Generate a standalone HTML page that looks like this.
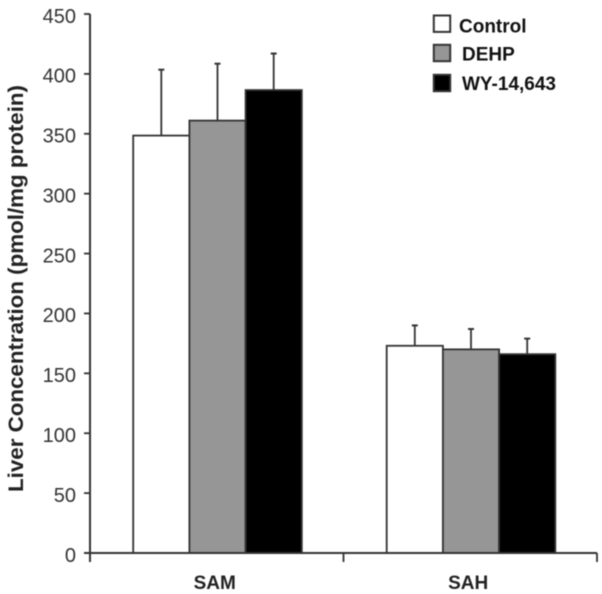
<!DOCTYPE html>
<html>
<head>
<meta charset="utf-8">
<style>
html,body{margin:0;padding:0;background:#fff;width:602px;height:594px;overflow:hidden}
svg{display:block;filter:blur(0.4px)}
text{font-family:"Liberation Sans",sans-serif}
</style>
</head>
<body>
<svg id="chart" width="602" height="594" viewBox="0 0 602 594" xmlns="http://www.w3.org/2000/svg">
<g id="marks"></g>
<g id="axes"></g>
<text transform="translate(23,288.5) rotate(-90)" text-anchor="middle" font-size="21.7" font-weight="bold" fill="#222" textLength="407" lengthAdjust="spacingAndGlyphs">Liver Concentration (pmol/mg protein)</text>
<g id="legend"></g>
</svg>
<script>
const categories = ['SAM', 'SAH'];
const seriesNames = ['Control', 'DEHP', 'WY-14,643'];
const controlValues = [348.5, 173];
const dehpValues = [361, 170];
const wyValues = [386.5, 166];
const controlErrors = [55, 17];
const dehpErrors = [47.5, 17];
const wyErrors = [30.5, 13];
const yTicks = [0, 50, 100, 150, 200, 250, 300, 350, 400, 450];

const seriesValues = [controlValues, dehpValues, wyValues];
const seriesErrors = [controlErrors, dehpErrors, wyErrors];
const seriesFills = ['#ffffff', '#969696', '#000000'];

const NS = 'http://www.w3.org/2000/svg';
const axisColor = '#333';
const plotLeft = 90, plotRight = 597, baseY = 553, topY = 14;
const yMax = 450;
const barWidth = 56.2;

function yScale(v) { return baseY - (v / yMax) * (baseY - topY); }
function bandCenter(i) { return plotLeft + (plotRight - plotLeft) * (i + 0.5) / categories.length + 0.75; }
function barX(c, s) { return bandCenter(c) - barWidth * seriesNames.length / 2 + s * barWidth; }

function make(tag, attrs, parent) {
  const el = document.createElementNS(NS, tag);
  for (const k in attrs) el.setAttribute(k, attrs[k]);
  parent.appendChild(el);
  return el;
}

const marks = document.getElementById('marks');
const axes = document.getElementById('axes');
const legend = document.getElementById('legend');

categories.forEach(function (cat, c) {
  seriesNames.forEach(function (name, s) {
    const v = seriesValues[s][c];
    const e = seriesErrors[s][c];
    const x = barX(c, s);
    const cx = x + barWidth / 2;
    const stem = make('line', {x1: cx, x2: cx, y1: yScale(v), y2: yScale(v + e), stroke: axisColor, 'stroke-width': 1.8}, marks);
    
    
    const cap = make('line', {x1: cx - 3, x2: cx + 3, y1: yScale(v + e), y2: yScale(v + e), stroke: axisColor, 'stroke-width': 2}, marks);
    
    
    const bar = make('rect', {x: x, y: yScale(v), width: barWidth, height: baseY - yScale(v), fill: seriesFills[s], stroke: axisColor, 'stroke-width': 1.8}, marks);
    
    
  });
  const label = make('text', {x: bandCenter(c) - 2.8, y: 589, 'text-anchor': 'middle', 'font-size': 19, 'font-weight': 'bold', fill: '#222'}, axes);
  label.textContent = cat;
  
  
});

const yAxisLine = make('line', {x1: plotLeft, x2: plotLeft, y1: topY, y2: 562, stroke: axisColor, 'stroke-width': 2}, axes);


const xAxisLine = make('line', {x1: 84, x2: plotRight, y1: baseY, y2: baseY, stroke: axisColor, 'stroke-width': 2}, axes);



yTicks.forEach(function (t) {
  const tick = make('line', {x1: 84, x2: plotLeft, y1: yScale(t), y2: yScale(t), stroke: axisColor, 'stroke-width': 1.8}, axes);
  
  
  const lab = make('text', {x: 76, y: yScale(t) + 8.8, 'text-anchor': 'end', 'font-size': 20, fill: '#333'}, axes);
  lab.textContent = t;
  
  
});

for (let i = 1; i <= categories.length; i++) {
  const px = plotLeft + (plotRight - plotLeft) * i / categories.length;
  const xt = make('line', {x1: px, x2: px, y1: baseY, y2: 562, stroke: axisColor, 'stroke-width': 1.8}, axes);
  
  
}

const swatchYs = [15.5, 44.8, 74.8];
const labelXs = [459, 462, 462];
const labelYs = [32.5, 60.5, 90];
seriesNames.forEach(function (name, s) {
  const sw = make('rect', {x: 433.8, y: swatchYs[s], width: 16.4, height: 16.4, fill: seriesFills[s], stroke: axisColor, 'stroke-width': 2}, legend);
  
  
  const tx = make('text', {x: labelXs[s], y: labelYs[s], 'font-size': 19, 'font-weight': 'bold', fill: '#111'}, legend);
  tx.textContent = name;
  
  
});
</script>
</body>
</html>
